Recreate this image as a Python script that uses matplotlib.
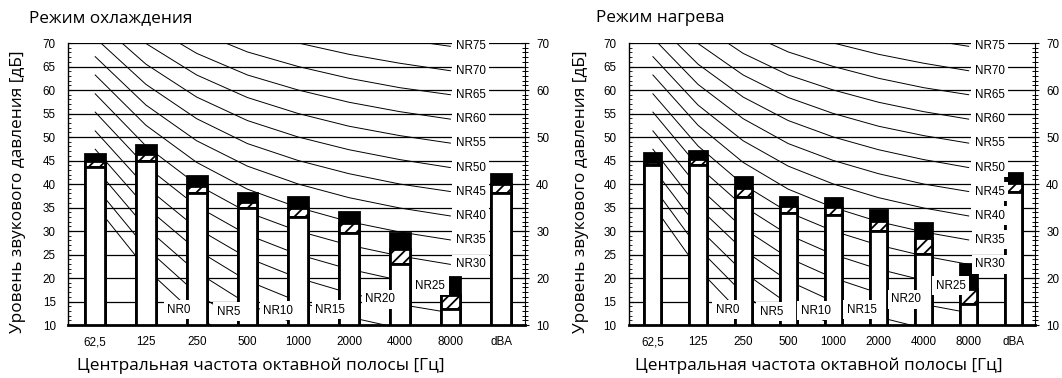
import numpy as np
import matplotlib.pyplot as plt
from matplotlib.ticker import MultipleLocator

# octave bands
bands = ['62,5', '125', '250', '500', '1000', '2000', '4000', '8000', 'dBA']

# cooling mode: top of black part, top of hatched part, top of white part
cool_top = [46.3, 48.3, 41.7, 38.0, 37.2, 34.0, 29.6, 20.2, 42.2]
cool_mid = [44.8, 46.4, 39.5, 36.1, 35.0, 31.6, 26.2, 16.4, 40.0]
cool_low = [43.6, 44.8, 38.0, 34.8, 33.0, 29.5, 22.9, 13.3, 38.0]

# heating mode
heat_top = [46.7, 47.1, 41.4, 37.3, 37.1, 34.5, 31.8, 23.0, 42.3]
heat_mid = [44.7, 45.3, 39.1, 35.4, 35.1, 32.2, 28.5, 17.6, 40.2]
heat_low = [44.1, 44.1, 37.2, 33.8, 33.4, 29.9, 25.1, 14.5, 38.2]

# NR curves, levels at 62.5 ... 8000 Hz
nr_levels = [0, 5, 10, 15, 20, 25, 30, 35, 40, 45, 50, 55, 60, 65, 70, 75]
nr_table = [
    [35.5, 22.0, 12.0, 4.8, 0.0, -3.5, -6.1, -8.0],
    [39.5, 26.4, 16.7, 9.7, 5.0, 1.6, -1.0, -2.9],
    [43.4, 30.7, 21.3, 14.5, 10.0, 6.7, 4.2, 2.3],
    [47.4, 35.1, 26.0, 19.4, 15.0, 11.7, 9.3, 7.5],
    [51.3, 39.4, 30.6, 24.3, 20.0, 16.8, 14.4, 12.6],
    [55.3, 43.8, 35.3, 29.2, 25.0, 21.9, 19.5, 17.8],
    [59.2, 48.1, 39.9, 34.0, 30.0, 27.0, 24.7, 22.9],
    [63.2, 52.5, 44.6, 38.9, 35.0, 32.0, 29.8, 28.1],
    [67.1, 56.8, 49.2, 43.8, 40.0, 37.1, 34.9, 33.2],
    [71.1, 61.2, 53.9, 48.6, 45.0, 42.2, 40.0, 38.4],
    [75.0, 65.5, 58.5, 53.5, 50.0, 47.3, 45.2, 43.5],
    [79.0, 69.9, 63.2, 58.4, 55.0, 52.3, 50.3, 48.7],
    [82.9, 74.2, 67.8, 63.2, 60.0, 57.4, 55.4, 53.8],
    [86.9, 78.6, 72.5, 68.1, 65.0, 62.5, 60.5, 59.0],
    [90.8, 82.9, 77.1, 73.0, 70.0, 67.6, 65.7, 64.1],
    [94.8, 87.3, 81.8, 77.9, 75.0, 72.6, 70.8, 69.3],
]
# where the NR0..NR25 labels sit (the others sit at the curve end)
low_label_x = [1.65, 2.63, 3.61, 4.63, 5.62, 6.6]
low_label_y = [13.2, 12.85, 13.0, 13.2, 15.5, 18.4]

plt.rcParams['hatch.linewidth'] = 1.3
num_font = 'Liberation Sans'
txt_font = 'Open Sans'
num_size = 8.4
txt_size = 12.4

fig = plt.figure(figsize=(10.62, 3.78), dpi=100)


def draw_panel(rect, top, mid, low, bar_w, end_x, title, title_x, ylab_x, xlab_x):
    ax = fig.add_axes(rect)
    x = np.arange(len(bands))
    top = np.array(top)
    mid = np.array(mid)
    low = np.array(low)
    # grid
    for yv in range(15, 75, 5):
        ax.axhline(yv, color='black', lw=0.9, zorder=1)
    # NR curves
    for i in range(len(nr_levels)):
        ax.plot(np.arange(8), nr_table[i], color='black', lw=0.7, zorder=2)
    # bars: black top, hatched middle, white base
    ax.bar(x, top - 10, bottom=10, width=bar_w, color='black',
           edgecolor='black', lw=2, zorder=3)
    ax.bar(x, mid - low, bottom=low, width=bar_w, facecolor='white',
           edgecolor='black', hatch='///', lw=2, zorder=4)
    ax.bar(x, low - 10, bottom=10, width=bar_w, facecolor='white',
           edgecolor='black', lw=2, zorder=5)
    # NR labels
    box = dict(boxstyle='square,pad=0.3', fc='white', ec='none')
    for i, n in enumerate(nr_levels):
        if i < len(low_label_x):
            lx, ly = low_label_x[i], low_label_y[i]
        else:
            lx, ly = end_x, nr_table[i][7]
        ax.text(lx, ly, 'NR%d' % n, ha='center', va='center', fontsize=num_size,
                family=num_font, bbox=box, zorder=6)

    ax.set_xlim(-0.53, 8.47)
    ax.set_ylim(10, 70)
    ax.set_xticks(x)
    ax.set_xticklabels(bands, family=num_font, fontsize=num_size)
    ax.tick_params(axis='x', length=0, pad=8)
    ax.yaxis.set_major_locator(MultipleLocator(5))
    ax.yaxis.set_minor_locator(MultipleLocator(1))
    ax.tick_params(axis='y', which='both', direction='in', labelsize=num_size, pad=9)
    ax.tick_params(axis='y', which='major', length=3)
    ax.tick_params(axis='y', which='minor', length=2)
    for lab in ax.get_yticklabels():
        lab.set_family(num_font)
    ax.spines['top'].set_visible(False)
    ax.spines['right'].set_visible(False)
    ax.spines['bottom'].set_linewidth(2)
    ax.spines['left'].set_linewidth(1)

    ax2 = ax.twinx()
    ax2.set_ylim(10, 70)
    ax2.yaxis.set_major_locator(MultipleLocator(10))
    ax2.yaxis.set_minor_locator(MultipleLocator(1))
    ax2.tick_params(axis='y', which='both', direction='inout', labelsize=num_size, pad=5)
    ax2.tick_params(axis='y', which='major', length=6)
    ax2.tick_params(axis='y', which='minor', length=5, width=0.7)
    for lab in ax2.get_yticklabels():
        lab.set_family(num_font)
    for s in ['top', 'left', 'bottom']:
        ax2.spines[s].set_visible(False)

    fig.text(title_x, 1 - 18 / 378, title, family=txt_font, fontsize=txt_size,
             ha='left', va='center')
    fig.text(ylab_x, 1 - 192 / 378, 'Уровень звукового давления [дБ]',
             family=txt_font, fontsize=txt_size, rotation=90, ha='center', va='center')
    fig.text(xlab_x, 1 - 366 / 378, 'Центральная частота октавной полосы [Гц]',
             family=txt_font, fontsize=txt_size, ha='center', va='center')


draw_panel([68.3 / 1062, 0.1402, 456.7 / 1062, 0.746], cool_top, cool_mid, cool_low,
           0.39, 7.40, 'Режим охлаждения', 28.6 / 1062, 18.5 / 1062, 261 / 1062)
draw_panel([629 / 1062, 0.1402, 406 / 1062, 0.746], heat_top, heat_mid, heat_low,
           0.38, 7.47, 'Режим нагрева', 596 / 1062, 581 / 1062, 819 / 1062)

fig.savefig('out.png', dpi=100)
